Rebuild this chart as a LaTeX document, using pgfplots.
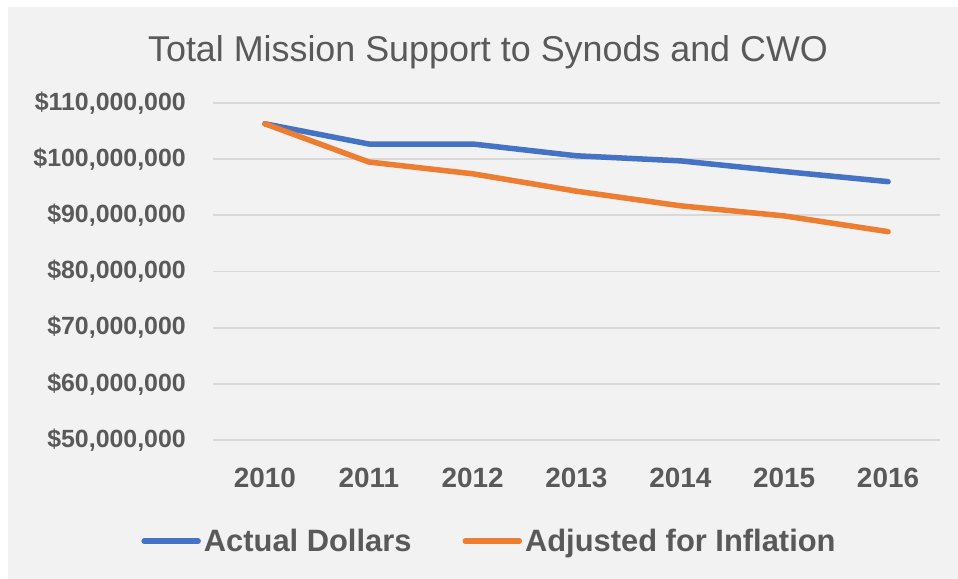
\documentclass[border=0pt]{standalone}
\usepackage{fontspec}
\setmainfont{Liberation Sans}
\usepackage{pgfplots}
\pgfplotsset{compat=1.18}

\definecolor{bgray}{HTML}{F2F2F2}
\definecolor{txt}{HTML}{595959}
\definecolor{gridc}{HTML}{D9D9D9}
\definecolor{sblue}{HTML}{4472C4}
\definecolor{sorange}{HTML}{ED7D31}

\begin{document}
\begin{tikzpicture}[x=1bp, y=-1bp]
\useasboundingbox (0,0) rectangle (958,579);
% background panel
\fill[white] (0,0) rectangle (958,579);
\fill[bgray] (8,7) rectangle (958,579);

\node[anchor=base, text=txt, font=\fontsize{36}{40}\selectfont] at (488,62)
  {Total Mission Support to Synods and CWO};

\begin{axis}[
  at={(213bp,-440bp)}, anchor=south west,
  scale only axis,
  width=727bp, height=337bp,
  xmin=2009.5, xmax=2016.5,
  ymin=50, ymax=110,
  xtick={2010,...,2016},
  ytick={50,60,...,110},
  yticklabels={{\$50,000,000},{\$60,000,000},{\$70,000,000},{\$80,000,000},
               {\$90,000,000},{\$100,000,000},{\$110,000,000}},
  /pgf/number format/1000 sep={},
  /pgf/number format/assume math mode=true,
  axis line style={draw=none},
  major tick length=0pt,
  ymajorgrids,
  major grid style={gridc, line width=1.8bp},
  tick label style={text=txt, font=\bfseries\fontsize{25}{30}\selectfont, inner sep=0pt},
  yticklabel style={anchor=east, xshift=-27bp},
  xticklabel style={anchor=north, yshift=-28bp, font=\bfseries\fontsize{28}{32}\selectfont},
  clip=false,
  legend columns=2,
  legend style={at={(0.381,-0.30)}, anchor=center, draw=none, fill=none,
    text=txt, font=\bfseries\fontsize{31}{36}\selectfont,
    nodes={inner xsep=3bp, inner ysep=0pt},
    /tikz/every even column/.append style={column sep=48bp}},
  legend image code/.code={\draw[#1, line cap=round] (0bp,0bp) -- (54bp,0bp);},
]
% Actual Dollars (millions)
\addplot[sblue, line width=5.5bp, line join=round, line cap=round] coordinates {
  (2010,106.3) (2011,102.7) (2012,102.7) (2013,100.6) (2014,99.7) (2015,97.8) (2016,96.0)};
\addlegendentry{Actual Dollars}
% Adjusted for Inflation (millions)
\addplot[sorange, line width=5.5bp, line join=round, line cap=round] coordinates {
  (2010,106.3) (2011,99.5) (2012,97.4) (2013,94.3) (2014,91.7) (2015,89.9) (2016,87.1)};
\addlegendentry{Adjusted for Inflation}
\end{axis}
\end{tikzpicture}
\end{document}
